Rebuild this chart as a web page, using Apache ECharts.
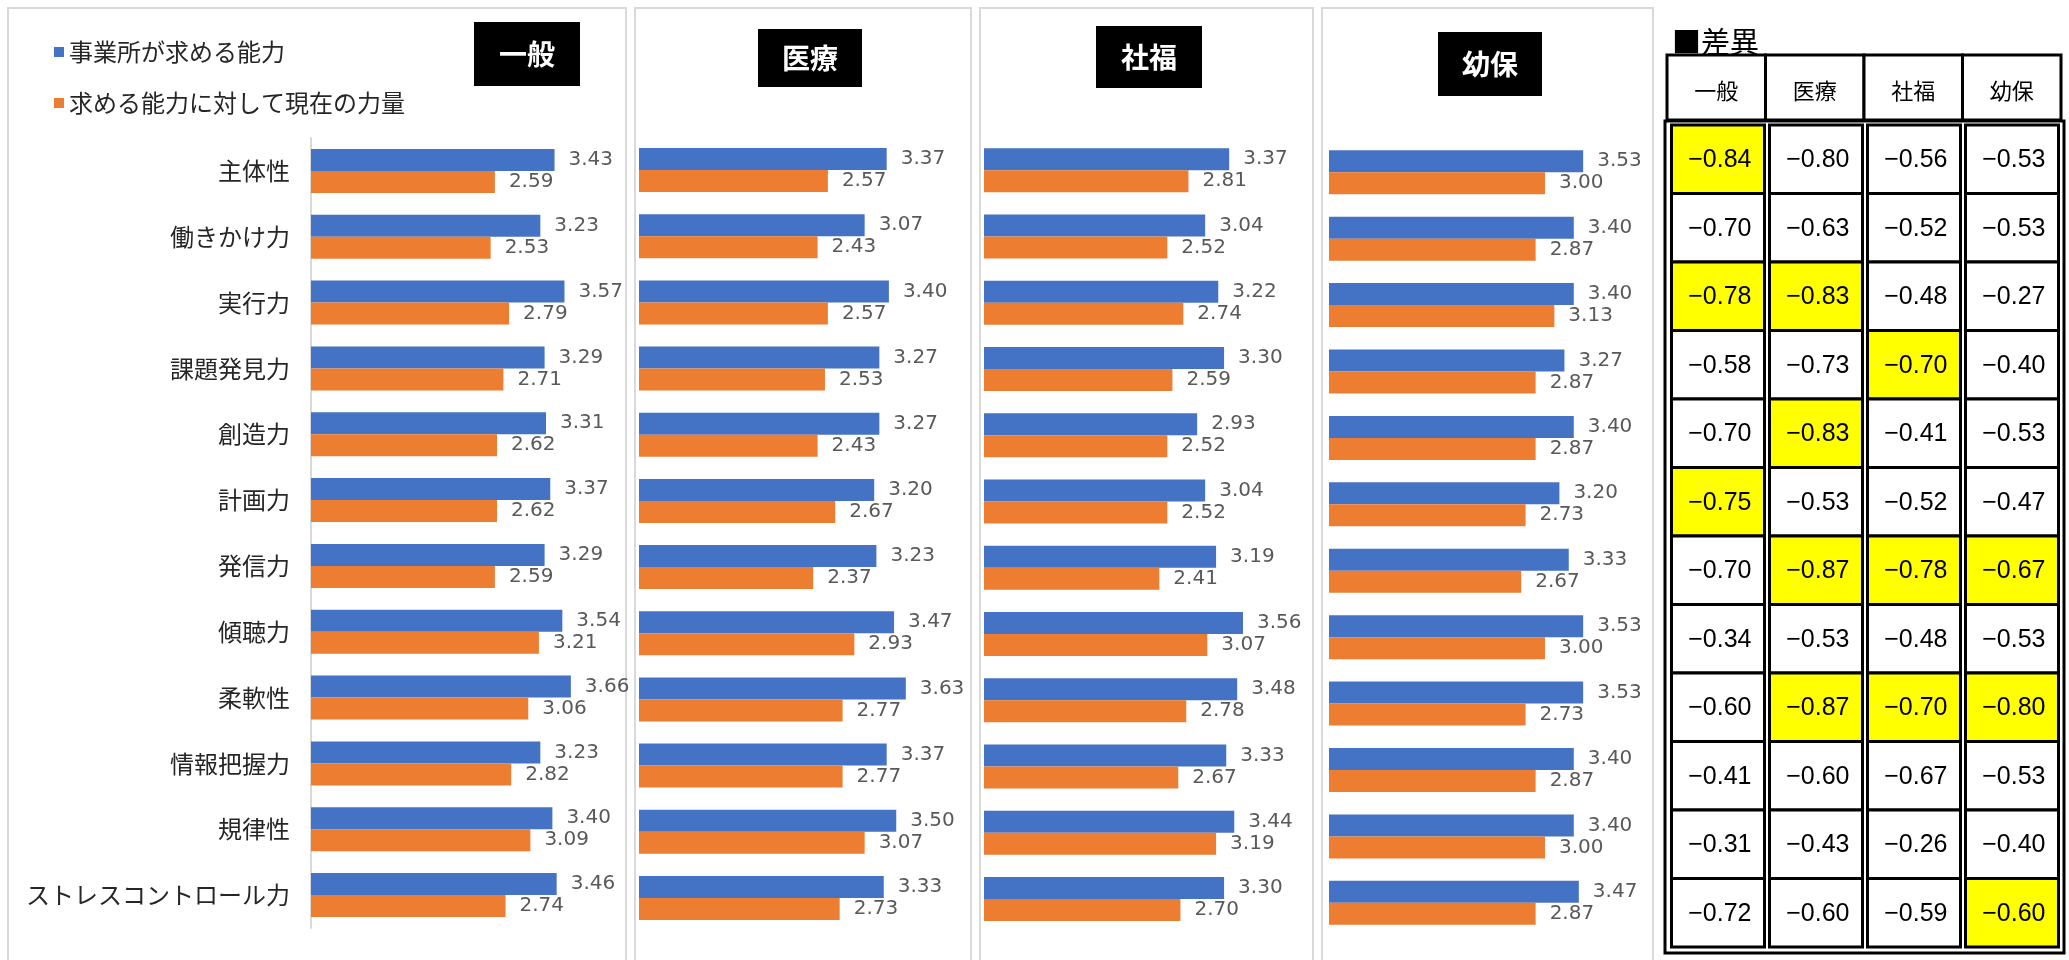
<!DOCTYPE html>
<html>
<head>
<meta charset="utf-8">
<script src="https://cdn.jsdelivr.net/npm/echarts@6/dist/echarts.min.js"></script>
<style>
html,body{margin:0;padding:0;background:#fff;}
#main{width:2069px;height:960px;}
</style>
</head>
<body>
<div id="main"></div>
<script>
var categories=['主体性','働きかけ力','実行力','課題発見力','創造力','計画力','発信力','傾聴力','柔軟性','情報把握力','規律性','ストレスコントロール力'];
var regions=['一般','医療','社福','幼保'];
var seriesNames=['事業所が求める能力','求める能力に対して現在の力量'];

var requiredIppan=[3.43,3.23,3.57,3.29,3.31,3.37,3.29,3.54,3.66,3.23,3.40,3.46];
var currentIppan=[2.59,2.53,2.79,2.71,2.62,2.62,2.59,3.21,3.06,2.82,3.09,2.74];
var requiredIryo=[3.37,3.07,3.40,3.27,3.27,3.20,3.23,3.47,3.63,3.37,3.50,3.33];
var currentIryo=[2.57,2.43,2.57,2.53,2.43,2.67,2.37,2.93,2.77,2.77,3.07,2.73];
var requiredShafuku=[3.37,3.04,3.22,3.30,2.93,3.04,3.19,3.56,3.48,3.33,3.44,3.30];
var currentShafuku=[2.81,2.52,2.74,2.59,2.52,2.52,2.41,3.07,2.78,2.67,3.19,2.70];
var requiredYoho=[3.53,3.40,3.40,3.27,3.40,3.20,3.33,3.53,3.53,3.40,3.40,3.47];
var currentYoho=[3.00,2.87,3.13,2.87,2.87,2.73,2.67,3.00,2.73,2.87,3.00,2.87];

var diffIppan=[-0.84,-0.70,-0.78,-0.58,-0.70,-0.75,-0.70,-0.34,-0.60,-0.41,-0.31,-0.72];
var diffIryo=[-0.80,-0.63,-0.83,-0.73,-0.83,-0.53,-0.87,-0.53,-0.87,-0.60,-0.43,-0.60];
var diffShafuku=[-0.56,-0.52,-0.48,-0.70,-0.41,-0.52,-0.78,-0.48,-0.70,-0.67,-0.26,-0.59];
var diffYoho=[-0.53,-0.53,-0.27,-0.40,-0.53,-0.47,-0.67,-0.53,-0.80,-0.53,-0.40,-0.60];
// 1 = yellow cell
var markIppan=[1,0,1,0,0,1,0,0,0,0,0,0];
var markIryo=[0,0,1,0,1,0,1,0,1,0,0,0];
var markShafuku=[0,0,0,1,0,0,1,0,1,0,0,0];
var markYoho=[0,0,0,0,0,0,1,0,1,0,0,1];

var required=[requiredIppan,requiredIryo,requiredShafuku,requiredYoho];
var current=[currentIppan,currentIryo,currentShafuku,currentYoho];
var diffs=[diffIppan,diffIryo,diffShafuku,diffYoho];
var marks=[markIppan,markIryo,markShafuku,markYoho];

var jp='"Noto Sans CJK JP", sans-serif';
var panelGrids=[
    {left:311,top:138,width:284,height:790},
    {left:639,top:137,width:294,height:794},
    {left:984,top:137,width:291,height:795},
    {left:1329,top:139,width:288,height:797}
];
var titleBoxes=[
    {left:474,top:22,padding:[17,25]},
    {left:758,top:29,padding:[14,24]},
    {left:1096,top:26,padding:[16,25]},
    {left:1438,top:32,padding:[17,24]}
];

var grids=[],xAxes=[],yAxes=[],series=[],titles=[];
for(var i=0;i<4;i++){
    grids.push(panelGrids[i]);
    xAxes.push({type:'value',gridIndex:i,min:0,max:4,show:false});
    yAxes.push({type:'category',gridIndex:i,data:categories,inverse:true,
        axisLine:{show:i==0,lineStyle:{color:'#d9d9d9',width:2}},
        axisTick:{show:false},
        axisLabel:{show:i==0,fontSize:24,color:'#262626',margin:21,fontFamily:jp}});
    var lists=[required[i],current[i]];
    var colors=['#4472c4','#ed7d31'];
    for(var k=0;k<2;k++){
        series.push({type:'bar',name:seriesNames[k],xAxisIndex:i,yAxisIndex:i,
            data:lists[k],barWidth:22,barGap:'0%',itemStyle:{color:colors[k]},
            label:{show:true,position:'right',distance:14,color:'#595959',fontSize:20,fontFamily:'DejaVu Sans',
                formatter:function(p){return p.value.toFixed(2);}},
            silent:true,animation:false});
    }
    titles.push({text:regions[i],left:titleBoxes[i].left,top:titleBoxes[i].top,padding:titleBoxes[i].padding,
        backgroundColor:'#000',textStyle:{color:'#fff',fontSize:28,fontWeight:'bold',fontFamily:jp,lineHeight:30}});
}
titles.push({text:'■差異',left:1672,top:27,padding:0,textStyle:{color:'#000',fontSize:29,fontWeight:'normal',fontFamily:jp}});

// table header
grids.push({left:1667,top:55,width:394,height:65});
xAxes.push({type:'category',gridIndex:4,data:regions,show:false});
yAxes.push({type:'category',gridIndex:4,data:['h'],show:false});
series.push({type:'custom',xAxisIndex:4,yAxisIndex:4,silent:true,animation:false,
    data:regions.map(function(r,c){return [c,0,r];}),
    renderItem:function(params,api){
        var p=api.coord([api.value(0),api.value(1)]);
        var s=api.size([1,1]);
        var x=p[0]-s[0]/2,y=p[1]-s[1]/2;
        return {type:'group',children:[
            {type:'rect',shape:{x:x,y:y,width:s[0],height:s[1]},style:{fill:'#fff',stroke:'#000',lineWidth:3}},
            {type:'text',style:{text:regions[params.dataIndex],x:p[0],y:p[1]+3,align:'center',verticalAlign:'middle',
                font:'22px '+jp,fill:'#000'}}
        ]};
    }});

// table body
var cells=[];
for(var c=0;c<4;c++){
    for(var r=0;r<12;r++){
        cells.push([c,r,diffs[c][r],marks[c][r]]);
    }
}
grids.push({left:1669,top:125,width:392,height:822});
xAxes.push({type:'category',gridIndex:5,data:regions,show:false});
yAxes.push({type:'category',gridIndex:5,data:categories,inverse:true,show:false});
series.push({type:'custom',xAxisIndex:5,yAxisIndex:5,silent:true,animation:false,
    data:cells,
    renderItem:function(params,api){
        var p=api.coord([api.value(0),api.value(1)]);
        var s=api.size([1,1]);
        var x=p[0]-s[0]/2+2.5,y=p[1]-s[1]/2,w=s[0]-5,h=s[1];
        var v=api.value(2);
        var txt=(v<0?'\u2212':'')+Math.abs(v).toFixed(2);
        return {type:'group',children:[
            {type:'rect',shape:{x:x,y:y,width:w,height:h},style:{fill:api.value(3)?'#ffff00':'#fff',stroke:'#000',lineWidth:3}},
            {type:'text',style:{text:txt,x:x+w-13,y:p[1]+1,align:'right',verticalAlign:'middle',
                font:'25px "Liberation Sans", Arial, sans-serif',fill:'#000'}}
        ]};
    }});

var frames=[[8,8,618,960],[635,8,336,960],[980,8,333,960],[1322,8,331,960]];
var graphics=frames.map(function(f){
    return {type:'rect',shape:{x:f[0],y:f[1],width:f[2],height:f[3]},style:{fill:'none',stroke:'#d9d9d9',lineWidth:2},silent:true,z:-1};
});
graphics.push({type:'rect',shape:{x:1665,y:121,width:399,height:832},style:{fill:'none',stroke:'#000',lineWidth:3},silent:true});

var option={
    backgroundColor:'#fff',
    animation:false,
    title:titles,
    legend:{data:seriesNames,orient:'vertical',left:49,top:35,icon:'rect',itemWidth:10,itemHeight:10,itemGap:27,
        textStyle:{fontSize:24,color:'#262626',fontFamily:jp,lineHeight:24},selectedMode:false},
    grid:grids,
    xAxis:xAxes,
    yAxis:yAxes,
    series:series,
    graphic:graphics
};
var chart=echarts.init(document.getElementById('main'));
chart.setOption(option);
</script>
</body>
</html>
